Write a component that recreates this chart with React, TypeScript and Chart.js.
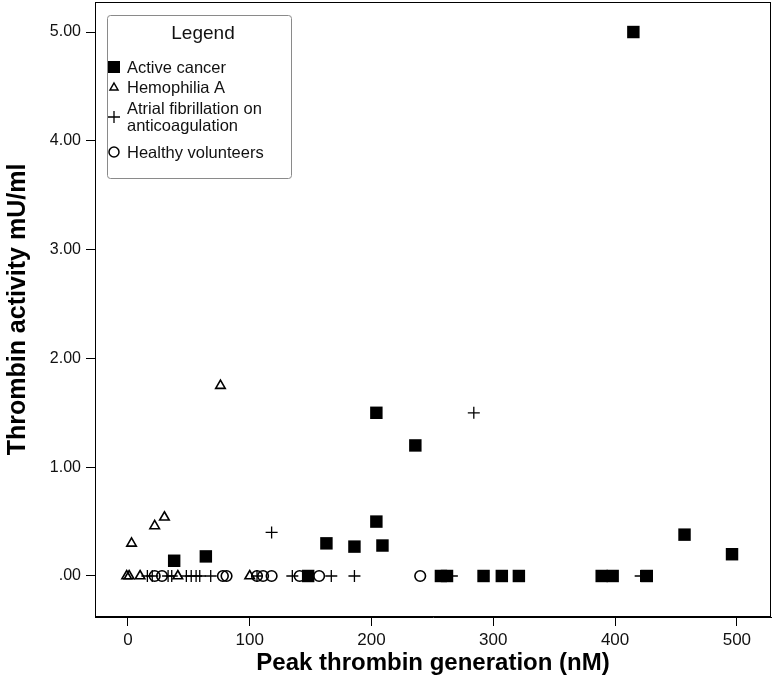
import React, { useEffect, useRef } from "react";
import { Chart, registerables } from "chart.js";

Chart.register(...registerables);

// ---- data ----
const xTickValues = [0, 100, 200, 300, 400, 500];
const yTickValues = [0, 1, 2, 3, 4, 5];

const cancerX = [415, 204, 236, 204, 163, 186, 209, 38, 64, 457, 496, 148, 257, 262, 292, 307, 321, 389, 398, 426];
const cancerY = [5.0, 1.5, 1.2, 0.5, 0.3, 0.27, 0.28, 0.14, 0.18, 0.38, 0.2, 0, 0, 0, 0, 0, 0, 0, 0, 0];

const hemoX = [76, 3, 22, 30, -1, 1, 10, 41, 100];
const hemoY = [1.75, 0.3, 0.46, 0.54, 0, 0, 0, 0, 0];

const afX = [118, 284, 16, 20, 33, 36, 48, 52, 56, 59, 68, 106, 135, 167, 186, 266, 421];
const afY = [0.4, 1.5, 0, 0, 0, 0, 0, 0, 0, 0, 0, 0, 0, 0, 0, 0, 0];

const healthyX = [22, 28, 78, 81, 106, 111, 118, 141, 157, 240];
const healthyY = [0, 0, 0, 0, 0, 0, 0, 0, 0, 0];

const seriesLabels = ["Active cancer", "Hemophilia A", "Atrial fibrillation on|anticoagulation", "Healthy volunteers"];

const pts = (xs: number[], ys: number[]) => xs.map((x, i) => ({ x, y: ys[i] }));

const FONT = "'Liberation Sans', Arial, sans-serif";

const framePlugin = {
  id: "frame",
  afterDatasetsDraw(chart: any) {
    const { ctx, chartArea } = chart;
    ctx.save();
    ctx.strokeStyle = "#000";
    ctx.lineWidth = 1;
    ctx.strokeRect(chartArea.left + 0.5, chartArea.top + 0.5, chartArea.right - chartArea.left - 1, chartArea.bottom - chartArea.top - 1);
    ctx.restore();
  },
};

const legendPlugin = {
  id: "boxLegend",
  afterDraw(chart: any) {
    const { ctx } = chart;
    ctx.save();
    const x0 = 107.5, y0 = 15.5, x1 = 291.5, y1 = 178.5, r = 3;
    ctx.beginPath();
    ctx.moveTo(x0 + r, y0);
    ctx.lineTo(x1 - r, y0);
    ctx.quadraticCurveTo(x1, y0, x1, y0 + r);
    ctx.lineTo(x1, y1 - r);
    ctx.quadraticCurveTo(x1, y1, x1 - r, y1);
    ctx.lineTo(x0 + r, y1);
    ctx.quadraticCurveTo(x0, y1, x0, y1 - r);
    ctx.lineTo(x0, y0 + r);
    ctx.quadraticCurveTo(x0, y0, x0 + r, y0);
    ctx.closePath();
    ctx.fillStyle = "#fff";
    ctx.fill();
    ctx.strokeStyle = "#8a8a8a";
    ctx.lineWidth = 1;
    ctx.stroke();

    ctx.fillStyle = "#111";
    ctx.textBaseline = "middle";
    ctx.textAlign = "center";
    ctx.font = `19px ${FONT}`;
    ctx.fillText("Legend", 203, 34);

    ctx.textAlign = "left";
    ctx.font = `16.5px ${FONT}`;
    const mx = 114;
    const tx = 127;
    ctx.fillStyle = "#000";
    ctx.fillRect(mx - 6, 67 - 6, 12, 12);
    ctx.fillStyle = "#111";
    ctx.fillText(seriesLabels[0], tx, 68);
    ctx.strokeStyle = "#000";
    ctx.lineWidth = 1.5;
    ctx.beginPath();
    ctx.moveTo(mx, 83);
    ctx.lineTo(mx + 4, 90);
    ctx.lineTo(mx - 4, 90);
    ctx.closePath();
    ctx.stroke();
    ctx.fillText(seriesLabels[1], tx, 88);
    const afLines = seriesLabels[2].split("|");
    ctx.lineWidth = 1.3;
    ctx.beginPath();
    ctx.moveTo(mx - 6, 117);
    ctx.lineTo(mx + 6, 117);
    ctx.moveTo(mx, 111);
    ctx.lineTo(mx, 123);
    ctx.stroke();
    ctx.fillText(afLines[0], tx, 109);
    ctx.fillText(afLines[1], tx, 126);
    ctx.lineWidth = 1.5;
    ctx.beginPath();
    ctx.arc(mx, 152, 5, 0, Math.PI * 2);
    ctx.stroke();
    ctx.fillText(seriesLabels[3], tx, 153);
    ctx.restore();
  },
};

export default function App() {
  const ref = useRef<HTMLCanvasElement | null>(null);

  useEffect(() => {
    if (!ref.current) return;
    const chart = new Chart(ref.current, {
      type: "scatter",
      data: {
        datasets: [
          {
            label: seriesLabels[0],
            data: pts(cancerX, cancerY),
            pointStyle: "rect",
            pointRadius: 8.8,
            backgroundColor: "#000",
            borderColor: "#000",
            borderWidth: 0,
          },
          {
            label: seriesLabels[1],
            data: pts(hemoX, hemoY),
            pointStyle: "triangle",
            pointRadius: 5.5,
            backgroundColor: "rgba(255,255,255,0)",
            borderColor: "#000",
            borderWidth: 1.6,
          },
          {
            label: seriesLabels[2].replace("|", " "),
            data: pts(afX, afY),
            pointStyle: "cross",
            pointRadius: 6,
            backgroundColor: "#000",
            borderColor: "#000",
            borderWidth: 1.3,
          },
          {
            label: seriesLabels[3],
            data: pts(healthyX, healthyY),
            pointStyle: "circle",
            pointRadius: 5.3,
            backgroundColor: "rgba(255,255,255,0)",
            borderColor: "#000",
            borderWidth: 1.6,
          },
        ],
      },
      options: {
        responsive: false,
        animation: false,
        layout: { autoPadding: false, padding: { top: 2, right: 3, left: 0, bottom: 0 } },
        plugins: {
          legend: { display: false },
          tooltip: { enabled: false },
        },
        scales: {
          x: {
            type: "linear",
            min: -27,
            max: 528,
            afterBuildTicks: (s: any) => {
              s.ticks = xTickValues.map((v) => ({ value: v }));
            },
            afterFit: (s: any) => {
              s.height = 63;
              s.paddingLeft = 0;
              s.paddingRight = 0;
            },
            border: { display: true, color: "#000", width: 1 },
            grid: { drawOnChartArea: false, drawTicks: true, tickLength: 9, color: "#000" },
            ticks: {
              color: "#111",
              font: { family: FONT, size: 17 },
              padding: 4,
              maxRotation: 0,
              callback: (v: any) => String(v),
            },
            title: {
              display: true,
              text: "Peak thrombin generation (nM)",
              color: "#000",
              font: { family: FONT, size: 24, weight: "bold" },
              padding: { top: 0, bottom: 2 },
            },
          },
          y: {
            type: "linear",
            min: -0.377,
            max: 5.276,
            afterBuildTicks: (s: any) => {
              s.ticks = yTickValues.map((v) => ({ value: v }));
            },
            afterFit: (s: any) => {
              s.width = 95;
              s.paddingTop = 0;
              s.paddingBottom = 0;
            },
            border: { display: true, color: "#000", width: 1 },
            grid: { drawOnChartArea: false, drawTicks: true, tickLength: 9, color: "#000" },
            ticks: {
              color: "#111",
              font: { family: FONT, size: 16 },
              padding: 5,
              callback: (v: any) => (v === 0 ? ".00" : Number(v).toFixed(2)),
            },
            title: {
              display: true,
              text: "Thrombin activity mU/ml",
              color: "#000",
              font: { family: FONT, size: 25, weight: "bold" },
              padding: { top: 3, bottom: 0 },
            },
          },
        },
      },
      plugins: [framePlugin, legendPlugin],
    });
    return () => chart.destroy();
  }, []);

  return (
    <div style={{ position: "fixed", left: 0, top: 0, width: 774, height: 680, background: "#fff" }}>
      <canvas ref={ref} width={774} height={680} style={{ display: "block" }} />
    </div>
  );
}
